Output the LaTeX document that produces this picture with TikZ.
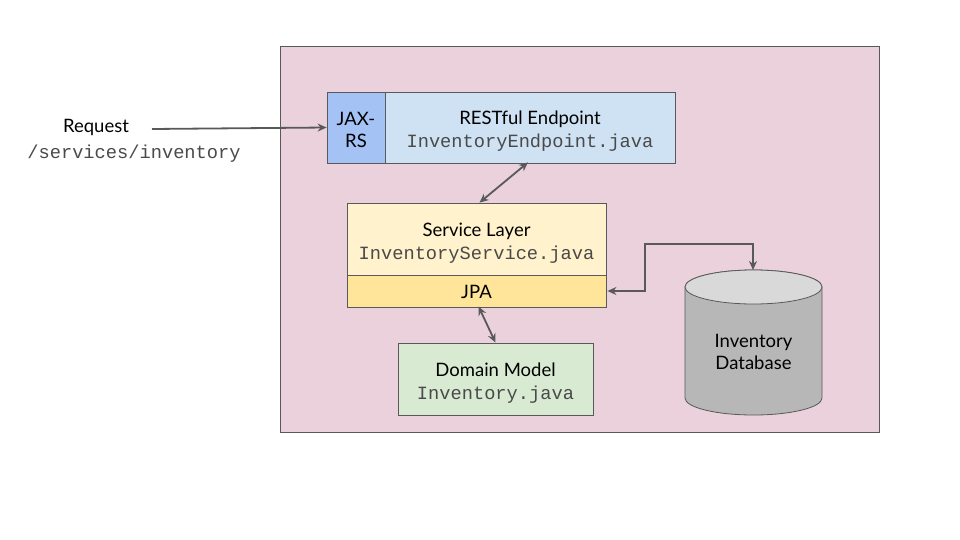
\documentclass[tikz,border=0pt]{standalone}
\usepackage{fontspec}
\setmainfont{Lato}
\setmonofont{Liberation Mono}
\usetikzlibrary{arrows.meta}
\definecolor{pinkbg}{HTML}{EAD1DC}
\definecolor{jaxblue}{HTML}{A4C2F4}
\definecolor{restblue}{HTML}{CFE2F3}
\definecolor{svcyel}{HTML}{FFF2CC}
\definecolor{jpayel}{HTML}{FFE599}
\definecolor{domgreen}{HTML}{D9EAD3}
\definecolor{dbtopc}{HTML}{D9D9D9}
\definecolor{dbbody}{HTML}{B7B7B7}
\definecolor{linec}{HTML}{595959}
\definecolor{monoc}{HTML}{4A4A4A}
\tikzset{
  box/.style={draw=linec, line width=0.8pt, rectangle, inner sep=0pt, align=center, font=\fontsize{18.5}{22}\selectfont},
  conn/.style={draw=linec, line width=1.8pt, {Stealth[length=9pt,width=8pt]}-{Stealth[length=9pt,width=8pt]}},
  oneway/.style={draw=linec, line width=1.8pt, -{Stealth[length=9pt,width=8pt]}},
  lbl/.style={font=\fontsize{18.5}{22}\selectfont, inner sep=0pt},
}
\newcommand{\mt}[1]{{\fontsize{18.7}{22}\ttfamily\selectfont\color{monoc}#1}}
\newcommand{\dn}{\rule{0pt}{21pt}}
\begin{document}
\begin{tikzpicture}[x=1pt,y=-1pt]
\useasboundingbox (0,0) rectangle (960,540);
\node[box, fill=pinkbg, minimum width=599pt, minimum height=386pt] (outer) at (579.5,239) {};
\node[box, fill=jaxblue, minimum width=58pt, minimum height=71pt] (jax) at (356,127.5) {\rule{0pt}{18pt}JAX-\\[0pt]RS};
\node[box, fill=restblue, minimum width=290pt, minimum height=71pt] (rest) at (530,127.5) {\dn RESTful Endpoint\\[1pt]\mt{InventoryEndpoint.java}};
\node[box, fill=svcyel, minimum width=259pt, minimum height=72pt] (svc) at (476.5,239) {\dn Service Layer\\[1pt]\mt{InventoryService.java}};
\node[box, fill=jpayel, minimum width=259pt, minimum height=32pt] (jpa) at (476.5,291) {\rule{0pt}{16pt}JPA};
\node[box, fill=domgreen, minimum width=195pt, minimum height=72pt] (dom) at (495.5,379) {\dn Domain Model\\[1pt]\mt{Inventory.java}};
% database cylinder
\fill[dbbody, draw=linec, line width=0.8pt] (685,287) -- (685,398) arc[start angle=180, end angle=0, x radius=68.5, y radius=17] -- (822,287) arc[start angle=0, end angle=-180, x radius=68.5, y radius=17] -- cycle;
\fill[dbtopc, draw=linec, line width=0.8pt] (753.5,287) ellipse[x radius=68.5, y radius=17];
\node[lbl, align=center] (db) at (753.5,352) {Inventory\\[0pt]Database};
\coordinate (dbtop) at (753,270);
\coordinate (bend) at (645,244);
% request
\node[lbl] (req) at (96,127) {Request};
\node[inner sep=0pt] (path) at (134,154) {\mt{/services/inventory}};
\coordinate (reqstart) at (152,129);
% connectors
\draw[oneway] (reqstart) -- (jax.west);
\draw[conn] ([xshift=-2pt,yshift=1pt]rest.south) -- ([xshift=3pt]svc.north);
\draw[conn] ([xshift=2pt,yshift=1pt]jpa.south) -- (dom.north);
\draw[conn] ([xshift=1pt]jpa.east) -| (bend) -| (dbtop);
\end{tikzpicture}
\end{document}
